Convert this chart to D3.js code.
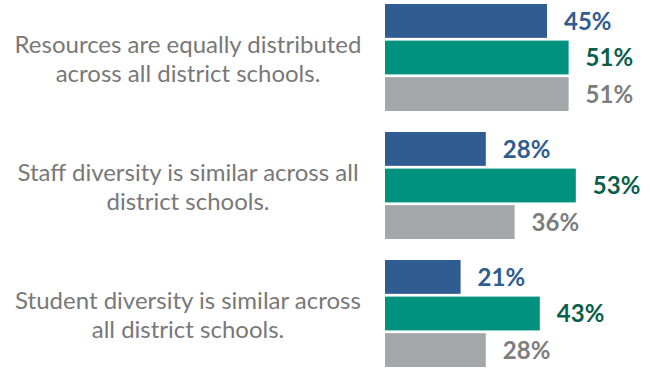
<!DOCTYPE html>
<html>
<head>
<meta charset="utf-8">
<script src="https://cdn.jsdelivr.net/npm/d3@7"></script>
<style>
  html, body { margin: 0; padding: 0; background: #fff; }
  svg { display: block; }
</style>
</head>
<body>
<svg id="chart" width="650" height="368"></svg>
<script>
// Survey statements (each wrapped onto two lines)
const categories = [
  ["Resources are equally distributed", "across all district schools."],
  ["Staff diversity is similar across all", "district schools."],
  ["Student diversity is similar across", "all district schools."]
];
const seriesNames = ["A", "B", "C"];
// Percent agreement per statement, one array per series
const seriesA = [45, 28, 21];
const seriesB = [51, 53, 43];
const seriesC = [51, 36, 28];
const barColors = ["#2f5d91", "#00927f", "#a5a6a9"];
const labelColors = ["#2f5d91", "#0b5e4c", "#7d7d7d"];

const values = [seriesA, seriesB, seriesC];
const svg = d3.select("#chart");

const catIdx = d3.range(categories.length);
const y0 = d3.scaleBand().domain(catIdx).range([4, 367]).paddingInner(21 / 128).paddingOuter(0);
const y1 = d3.scaleBand().domain(seriesNames).range([0, y0.bandwidth()]).paddingInner(0.075).paddingOuter(0);
const x = d3.scaleLinear().domain([0, 100]).range([385, 745]);

const groups = svg.selectAll("g.group")
  .data(catIdx)
  .join("g")
  .attr("class", "group")
  .attr("transform", i => `translate(0,${y0(i)})`);

// Category text, centred to the left of the bars
groups.append("text")
  .attr("x", 188)
  .attr("y", y0.bandwidth() / 2)
  .attr("text-anchor", "middle")
  .attr("font-family", "Lato, sans-serif")
  .attr("font-size", 24)
  .attr("fill", "#787878")
  .selectAll("tspan")
  .data(i => categories[i])
  .join("tspan")
  .attr("x", 188)
  .attr("dy", (d, j) => j === 0 ? -4.5 : 28.5)
  .text(d => d);

const bars = groups.selectAll("g.bar")
  .data(i => seriesNames.map((s, k) => ({ s, k, v: values[k][i] })))
  .join("g")
  .attr("class", "bar");

bars.append("rect")
  .attr("x", x(0))
  .attr("y", d => y1(d.s))
  .attr("width", d => x(d.v) - x(0))
  .attr("height", y1.bandwidth())
  .attr("fill", d => barColors[d.k]);

bars.append("text")
  .attr("x", d => x(d.v) + 17)
  .attr("y", d => y1(d.s) + y1.bandwidth() / 2)
  .attr("dy", "0.37em")
  .attr("font-family", "Lato, sans-serif")
  .attr("font-weight", "bold")
  .attr("font-size", 24)
  .attr("fill", d => labelColors[d.k])
  .text(d => d.v + "%");
</script>
</body>
</html>
